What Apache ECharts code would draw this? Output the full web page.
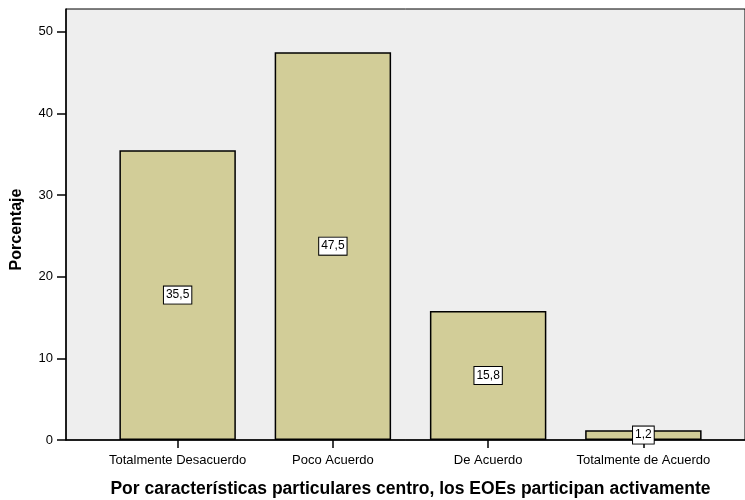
<!DOCTYPE html>
<html>
<head>
<meta charset="utf-8">
<script src="https://cdn.jsdelivr.net/npm/echarts@6/dist/echarts.min.js"></script>
<style>html,body{margin:0;padding:0;background:#fff}#c{width:745px;height:500px}</style>
</head>
<body>
<div id="c"></div>
<script>
var categories = ['Totalmente Desacuerdo', 'Poco Acuerdo', 'De Acuerdo', 'Totalmente de Acuerdo'];
var values = [35.5, 47.5, 15.8, 1.2];
var yTicks = [0, 10, 20, 30, 40, 50];
var yMax = 52.8;
var xTitle = 'Por características particulares centro, los EOEs participan activamente';
var yTitle = 'Porcentaje';

var font = 'Liberation Sans, Arial, sans-serif';
var chart = echarts.init(document.getElementById('c'), null, {renderer: 'canvas'});
chart.setOption({
  animation: false,
  backgroundColor: '#ffffff',
  textStyle: {fontFamily: font},
  grid: [
    {left: 66, top: 9, right: 0, bottom: 60, outerBoundsMode: 'none', containLabel: false, show: true, backgroundColor: '#EEEEEE', borderColor: '#000', borderWidth: 1},
    {left: 100, top: 9, width: 621, bottom: 60, outerBoundsMode: 'none', containLabel: false}
  ],
  xAxis: [
    {gridIndex: 0, type: 'value', min: 0, max: 1, axisLine: {show: true, onZero: false, lineStyle: {color: '#000', width: 1.5}}, axisTick: {show: false}, axisLabel: {show: false}, splitLine: {show: false}},
    {gridIndex: 1, type: 'category', data: categories, axisLine: {show: false}, boundaryGap: true,
      axisTick: {show: true, alignWithLabel: true, length: 8, lineStyle: {color: '#000', width: 1.5}},
      axisLabel: {color: '#000', fontSize: 13, margin: 14, fontFamily: font, interval: 0},
      name: xTitle, nameLocation: 'middle', nameGap: 40,
      nameTextStyle: {color: '#000', fontSize: 17.5, fontWeight: 'bold', fontFamily: font}}
  ],
  yAxis: [
    {gridIndex: 0, type: 'value', min: 0, max: yMax, interval: 10,
      axisLine: {show: true, lineStyle: {color: '#000', width: 1.5}},
      axisTick: {show: true, length: 9, lineStyle: {color: '#000', width: 1.5}},
      axisLabel: {color: '#000', fontSize: 13, margin: 13, fontFamily: font, showMaxLabel: false,
        formatter: function (v) { return yTicks.indexOf(v) >= 0 ? String(v) : ''; }},
      splitLine: {show: false},
      name: yTitle, nameLocation: 'middle', nameGap: 41,
      nameTextStyle: {color: '#000', fontSize: 16, fontWeight: 'bold', fontFamily: font, padding: [0, 10, 0, 0]}},
    {gridIndex: 1, type: 'value', min: 0, max: yMax, show: false, splitLine: {show: false}}
  ],
  series: [{
    type: 'bar', xAxisIndex: 1, yAxisIndex: 1, data: values, barCategoryGap: '25%',
    itemStyle: {color: '#D2CD98', borderColor: '#000', borderWidth: 1.5},
    label: {show: true, position: 'inside', color: '#000', fontSize: 12, fontFamily: font,
      backgroundColor: '#fff', borderColor: '#000', borderWidth: 1, padding: [3, 2, 2, 2],
      formatter: function (p) { return String(p.value).replace('.', ','); }}
  }]
});
</script>
</body>
</html>
